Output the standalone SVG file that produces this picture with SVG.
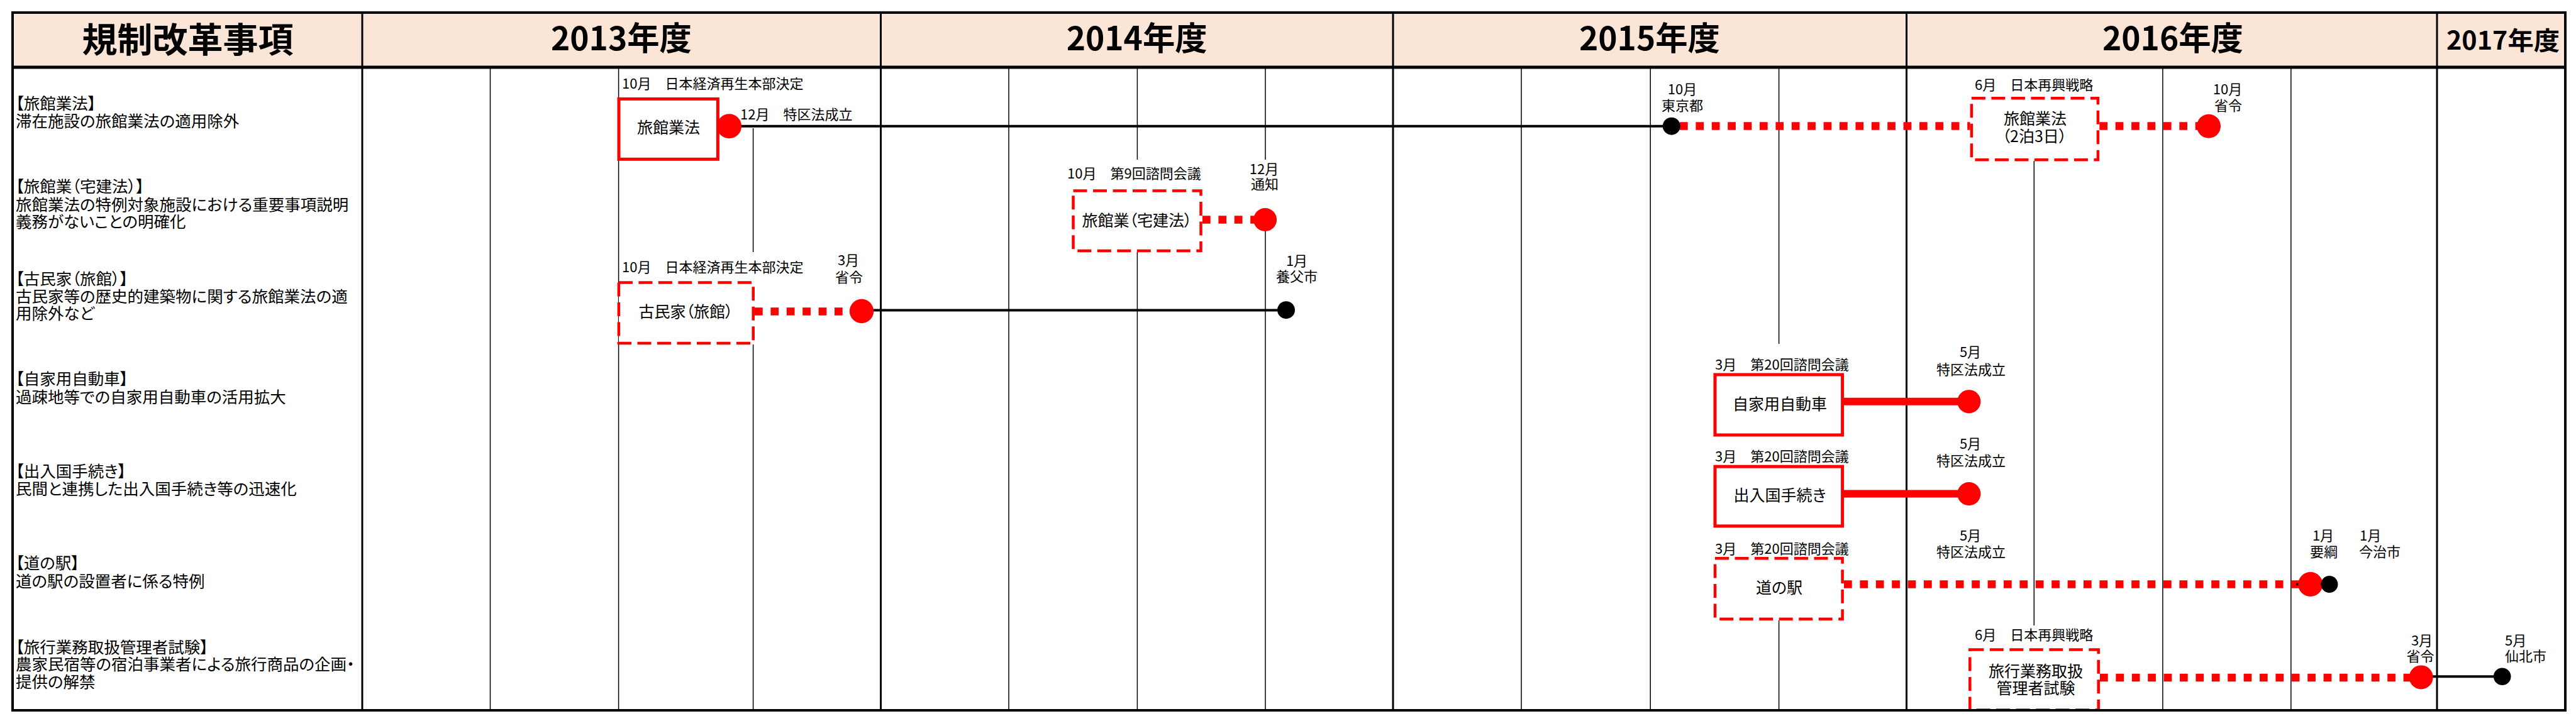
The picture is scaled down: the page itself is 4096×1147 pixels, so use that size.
<svg xmlns="http://www.w3.org/2000/svg" width="4096" height="1147" viewBox="0 0 4096 1147">
<style>
text{font-family:"Noto Sans CJK JP","Noto Sans CJK SC",sans-serif;fill:#000;font-feature-settings:"palt"}
.hdr{font-weight:700;text-anchor:middle}
.lbl{font-size:25.5px}
.sm{font-size:22px}
.smc{font-size:22px;text-anchor:middle}
.bx{font-size:25px;text-anchor:middle}
.bs{fill:#fff;stroke:#ff0000;stroke-width:5}
.bd{fill:#fff;stroke:#ff0000;stroke-width:4.5;stroke-dasharray:22 9.5}
.dr{fill:#ff0000}
.dk{fill:#000}
.lk{stroke:#000;stroke-width:4;fill:none}
.ld{stroke:#ff0000;stroke-width:12.5;stroke-dasharray:12.7 12.7;fill:none}
.lr{stroke:#ff0000;stroke-width:12;fill:none}
.vl{stroke:#000;stroke-width:1.5}
.vs{stroke:#000;stroke-width:3}
</style>
<rect x="0" y="0" width="4096" height="1147" fill="#fff"/>
<g id="table">
<rect x="20" y="20" width="4059" height="87" fill="#fbe5d6"/>
<g id="gridlines">
<line class="vl" x1="779.5" y1="109" x2="779.5" y2="1130"/>
<line class="vl" x1="983.6" y1="109" x2="983.6" y2="1130"/>
<line class="vl" x1="1197.6" y1="204" x2="1197.6" y2="401"/>
<line class="vl" x1="1197.6" y1="548" x2="1197.6" y2="1130"/>
<line class="vl" x1="1604" y1="109" x2="1604" y2="1130"/>
<line class="vl" x1="1808.4" y1="109" x2="1808.4" y2="254"/>
<line class="vl" x1="1808.4" y1="401" x2="1808.4" y2="1130"/>
<line class="vl" x1="2012" y1="109" x2="2012" y2="254"/>
<line class="vl" x1="2012" y1="350" x2="2012" y2="1130"/>
<line class="vl" x1="2419" y1="109" x2="2419" y2="1130"/>
<line class="vl" x1="2624.2" y1="109" x2="2624.2" y2="1130"/>
<line class="vl" x1="2828.6" y1="109" x2="2828.6" y2="547"/>
<line class="vl" x1="2828.6" y1="987" x2="2828.6" y2="1130"/>
<line class="vl" x1="3234.3" y1="256" x2="3234.3" y2="995"/>
<line class="vl" x1="3438.9" y1="109" x2="3438.9" y2="1130"/>
<line class="vl" x1="3642.8" y1="109" x2="3642.8" y2="1130"/>
<line class="vs" x1="576" y1="20" x2="576" y2="1130"/>
<line class="vs" x1="1400.5" y1="20" x2="1400.5" y2="1130"/>
<line class="vs" x1="2215" y1="20" x2="2215" y2="1130"/>
<line class="vs" x1="3031.5" y1="20" x2="3031.5" y2="1130"/>
<line class="vs" x1="3875" y1="20" x2="3875" y2="1130"/>
<line x1="20" y1="107" x2="4079" y2="107" stroke="#000" stroke-width="5"/>
<rect x="20" y="20" width="4059" height="1110" fill="none" stroke="#000" stroke-width="4"/>
</g>
<g id="header">
<text class="hdr" x="298.5" y="83" font-size="55" textLength="336" lengthAdjust="spacingAndGlyphs">規制改革事項</text>
<text class="hdr" x="988" y="80" font-size="52" textLength="224" lengthAdjust="spacingAndGlyphs">2013年度</text>
<text class="hdr" x="1807.7" y="80" font-size="52" textLength="224" lengthAdjust="spacingAndGlyphs">2014年度</text>
<text class="hdr" x="2623" y="80" font-size="52" textLength="224" lengthAdjust="spacingAndGlyphs">2015年度</text>
<text class="hdr" x="3455" y="80" font-size="52" textLength="224" lengthAdjust="spacingAndGlyphs">2016年度</text>
<text class="hdr" x="3980" y="79" font-size="40" textLength="180" lengthAdjust="spacingAndGlyphs">2017年度</text>
</g>
<g id="items">
<text class="lbl" x="25" y="174.4">【旅館業法】</text>
<text class="lbl" x="25" y="202.1">滞在施設の旅館業法の適用除外</text>
<text class="lbl" x="25" y="306.4">【旅館業（宅建法）】</text>
<text class="lbl" x="25" y="335.4">旅館業法の特例対象施設における重要事項説明</text>
<text class="lbl" x="25" y="362.4">義務がないことの明確化</text>
<text class="lbl" x="25" y="452.9">【古民家（旅館）】</text>
<text class="lbl" x="25" y="480.9">古民家等の歴史的建築物に関する旅館業法の適</text>
<text class="lbl" x="25" y="508.4">用除外など</text>
<text class="lbl" x="25" y="611.9">【自家用自動車】</text>
<text class="lbl" x="25" y="641">過疎地等での自家用自動車の活用拡大</text>
<text class="lbl" x="25" y="759">【出入国手続き】</text>
<text class="lbl" x="25" y="787.4">民間と連携した出入国手続き等の迅速化</text>
<text class="lbl" x="25" y="905.4">【道の駅】</text>
<text class="lbl" x="25" y="934.4">道の駅の設置者に係る特例</text>
<text class="lbl" x="25" y="1038.7">【旅行業務取扱管理者試験】</text>
<text class="lbl" x="25" y="1066.4">農家民宿等の宿泊事業者による旅行商品の企画・</text>
<text class="lbl" x="25" y="1094.4">提供の解禁</text>
</g>
</g>
<g id="connectors">
<line class="lk" x1="1159.5" y1="200.7" x2="2657.8" y2="200.7"/>
<line class="ld" x1="2671" y1="200.6" x2="3132.6" y2="200.6"/>
<line class="ld" x1="3338.3" y1="200.6" x2="3500" y2="200.6"/>
<line class="ld" x1="1912" y1="349.6" x2="2000" y2="349.6"/>
<line class="ld" x1="1200" y1="495.5" x2="1360" y2="495.5"/>
<line class="lk" x1="1370" y1="493.6" x2="2045" y2="493.6"/>
<line class="lr" x1="2932" y1="638.7" x2="3130.8" y2="638.7"/>
<line class="lr" x1="2932" y1="785.4" x2="3130.8" y2="785.4"/>
<line class="ld" x1="2932" y1="929.5" x2="3660" y2="929.5"/>
<line class="lk" x1="3651" y1="929.5" x2="3704" y2="929.5"/>
<line class="ld" x1="3339" y1="1078" x2="3840" y2="1078"/>
<line class="lk" x1="3849.7" y1="1076.3" x2="3978.7" y2="1076.3"/>
</g>
<g id="n-ryokan-2013">
<text class="sm" x="989" y="141">10月　日本経済再生本部決定</text>
<rect class="bs" x="984" y="157.4" width="157.4" height="95.9"/>
<text class="bx" x="1063" y="211.5">旅館業法</text>
</g>
<g id="m-ryokan-tokku">
<circle class="dr" cx="1159.5" cy="200.7" r="19.5"/>
<text class="sm" x="1177" y="190">12月　特区法成立</text>
</g>
<g id="m-tokyo">
<circle class="dk" cx="2657.8" cy="200.7" r="14"/>
<text class="smc" x="2675" y="150">10月</text>
<text class="smc" x="2675" y="176">東京都</text>
</g>
<g id="n-ryokan-2016">
<text class="sm" x="3140" y="143">6月　日本再興戦略</text>
<rect class="bd" x="3134.9" y="156.2" width="201" height="98"/>
<text class="bx" x="3236" y="198.4">旅館業法</text>
<text class="bx" x="3235" y="226">（2泊3日）</text>
</g>
<g id="m-ryokan-shorei">
<circle class="dr" cx="3512" cy="200.7" r="19"/>
<text class="smc" x="3542" y="150">10月</text>
<text class="smc" x="3543" y="175.5">省令</text>
</g>
<g id="n-takken">
<text class="sm" x="1697" y="283.5">10月　第9回諮問会議</text>
<rect class="bd" x="1706.5" y="303.6" width="203" height="95.3"/>
<text class="bx" x="1808" y="359.8">旅館業（宅建法）</text>
</g>
<g id="m-takken-tsuchi">
<circle class="dr" cx="2011.6" cy="349.5" r="18.5"/>
<text class="smc" x="2010" y="277">12月</text>
<text class="smc" x="2011" y="300.5">通知</text>
</g>
<g id="n-kominka">
<text class="sm" x="989" y="432.7">10月　日本経済再生本部決定</text>
<rect class="bd" x="983.9" y="449.5" width="213.8" height="96.5"/>
<text class="bx" x="1090.6" y="505">古民家（旅館）</text>
</g>
<g id="m-kominka-shorei">
<circle class="dr" cx="1370" cy="495" r="19.2"/>
<text class="smc" x="1349" y="421.5">3月</text>
<text class="smc" x="1350" y="449">省令</text>
</g>
<g id="m-yabu">
<circle class="dk" cx="2045" cy="493.2" r="14"/>
<text class="smc" x="2062" y="422.5">1月</text>
<text class="smc" x="2062" y="447.5">養父市</text>
</g>
<g id="n-jikayou">
<text class="sm" x="2727" y="588">3月　第20回諮問会議</text>
<rect class="bs" x="2727" y="596" width="202.6" height="96"/>
<text class="bx" x="2830" y="651.6">自家用自動車</text>
</g>
<g id="m-jikayou-tokku">
<circle class="dr" cx="3130.8" cy="638.8" r="18.6"/>
<text class="smc" x="3133" y="568">5月</text>
<text class="smc" x="3134" y="595.5">特区法成立</text>
</g>
<g id="n-shutsunyukoku">
<text class="sm" x="2727" y="734.3">3月　第20回諮問会議</text>
<rect class="bs" x="2727" y="742.2" width="202.6" height="94.7"/>
<text class="bx" x="2830" y="797.3">出入国手続き</text>
</g>
<g id="m-shutsunyukoku-tokku">
<circle class="dr" cx="3130.8" cy="785.6" r="18.6"/>
<text class="smc" x="3133" y="714">5月</text>
<text class="smc" x="3134" y="740.5">特区法成立</text>
</g>
<g id="n-michinoeki">
<text class="sm" x="2727" y="880.6">3月　第20回諮問会議</text>
<rect class="bd" x="2727" y="888.3" width="202.6" height="96.5"/>
<text class="bx" x="2829" y="944.4">道の駅</text>
<text class="smc" x="3133" y="860">5月</text>
<text class="smc" x="3134" y="886">特区法成立</text>
</g>
<g id="m-michinoeki-youkou">
<circle class="dr" cx="3673.7" cy="929.5" r="19.5"/>
<circle class="dk" cx="3703.9" cy="929.5" r="13.5"/>
<text class="smc" x="3694" y="860">1月</text>
<text class="smc" x="3695" y="886.3">要綱</text>
<text class="sm" x="3752" y="860">1月</text>
<text class="sm" x="3751" y="886.3">今治市</text>
</g>
<g id="n-ryokougyoumu">
<text class="sm" x="3140" y="1018">6月　日本再興戦略</text>
<rect class="bd" x="3132.3" y="1033.6" width="204.4" height="96"/>
<text class="bx" x="3237" y="1077">旅行業務取扱</text>
<text class="bx" x="3237" y="1104">管理者試験</text>
</g>
<g id="m-ryokougyoumu-shorei">
<circle class="dr" cx="3849.7" cy="1077.4" r="19"/>
<text class="smc" x="3851" y="1027">3月</text>
<text class="smc" x="3848.5" y="1052.4">省令</text>
</g>
<g id="m-senboku">
<circle class="dk" cx="3978.7" cy="1076.2" r="13.8"/>
<text class="sm" x="3983" y="1027">5月</text>
<text class="sm" x="3983" y="1052.4">仙北市</text>
</g>
<line x1="20" y1="1130" x2="4079" y2="1130" stroke="#000" stroke-width="4"/>
</svg>
